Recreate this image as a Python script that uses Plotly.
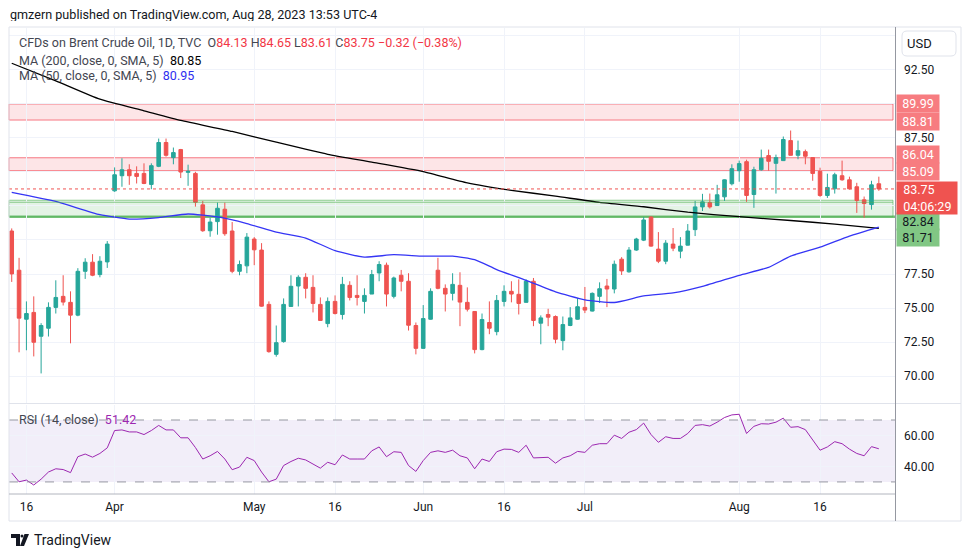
import plotly.graph_objects as go
import pandas as pd

# ---------------- data ----------------
dates = [d.strftime("%Y-%m-%d") for d in pd.bdate_range("2023-03-14", "2023-08-28")
         if d.strftime("%Y-%m-%d") != "2023-04-07"]

opens = [80.66, 77.78, 74.18, 74.68, 72.93, 73.52, 75.05, 75.86, 75.42, 74.48, 77.70, 78.37, 77.46, 78.39,
         83.61, 84.72, 85.16, 84.89, 84.89, 84.08, 85.41, 87.16, 86.05, 86.64, 84.97, 84.89, 82.58, 80.68,
         81.35, 82.26, 80.66, 77.70, 78.10,
         80.07, 79.26, 75.27, 71.60, 72.54, 75.12, 76.62, 77.26, 76.52, 75.27, 73.86, 75.49, 74.53, 76.67,
         75.93, 75.49, 76.03, 77.58, 78.15, 75.86, 77.41, 76.97, 73.72,
         72.04, 74.18, 77.78, 76.45, 76.08, 76.67, 75.42, 74.75, 71.95, 73.94, 73.27, 75.49, 76.23, 76.01,
         75.42, 76.97, 73.89, 74.53, 74.38, 72.61, 73.72, 74.18,
         75.05, 74.78, 75.86, 76.62, 76.40, 78.59, 77.66, 79.26, 79.99, 81.69, 79.33, 78.44, 79.70, 79.18,
         79.62, 80.76, 82.43, 82.75, 82.53, 83.17, 84.13,
         85.09, 85.75, 83.34, 85.16, 86.20, 85.63, 85.83, 87.30, 86.22, 86.49, 86.05, 85.04, 83.27, 83.76,
         84.72, 84.42, 83.91, 82.95, 82.60, 84.13]
highs = [80.85, 78.69, 75.49, 75.86, 73.89, 75.42, 77.04, 77.41, 76.23, 77.93, 78.66, 78.96, 78.81, 79.92,
         85.33, 86.00, 85.56, 85.41, 85.63, 85.63, 87.45, 87.45, 86.79, 86.69, 85.53, 85.01, 82.87, 81.64,
         82.75, 82.75, 81.32, 78.49, 80.51,
         80.21, 79.77, 75.49, 73.72, 75.71, 77.41, 77.41, 77.56, 77.41, 75.78, 75.78, 75.93, 77.29, 76.97,
         77.41, 76.45, 77.80, 78.44, 78.34, 77.31, 77.80, 77.56, 73.94,
         75.22, 76.45, 78.69, 76.74, 77.56, 77.63, 76.52, 74.78, 74.60, 75.49, 75.96, 76.67, 76.97, 77.11,
         77.11, 77.21, 74.46, 74.95, 74.46, 74.38, 75.07, 75.74,
         76.55, 76.15, 76.89, 77.14, 78.49, 78.74, 79.48, 80.16, 81.69, 81.72, 80.58, 79.99, 80.88, 80.21,
         81.17, 82.87, 83.39, 83.41, 84.05, 84.45, 85.56,
         85.83, 85.90, 85.38, 86.64, 86.64, 86.27, 87.60, 88.04, 87.30, 86.64, 86.08, 85.31, 84.87, 84.94,
         85.83, 84.65, 84.20, 83.19, 84.35, 84.65]
lows = [76.92, 71.75, 71.90, 71.45, 70.20, 72.91, 74.60, 75.19, 72.41, 74.40, 77.14, 77.34, 77.26, 77.95,
        83.54, 83.91, 84.05, 84.15, 84.10, 83.73, 85.35, 86.12, 85.56, 84.55, 83.98, 82.45, 80.60, 80.24,
        80.39, 80.31, 77.56, 77.41, 77.56,
        78.15, 75.10, 71.72, 71.43, 72.46, 75.10, 75.12, 75.71, 74.68, 74.05, 73.59, 74.53, 74.16, 75.56,
        75.19, 74.60, 76.03, 76.97, 75.12, 75.71, 76.23, 73.35, 71.60,
        72.00, 74.15, 76.38, 74.75, 75.56, 73.67, 74.75, 71.67, 71.90, 73.08, 73.00, 75.12, 75.42, 74.53,
        75.40, 73.67, 72.34, 73.67, 72.41, 71.90, 73.67, 74.15,
        74.63, 74.75, 75.37, 75.07, 76.08, 77.43, 77.60, 79.20, 79.92, 79.50, 78.30, 78.22, 79.18, 78.66,
        79.60, 80.29, 82.13, 82.31, 82.50, 82.87, 84.01,
        84.28, 82.80, 82.36, 85.09, 85.09, 83.41, 85.80, 86.20, 85.93, 85.56, 84.35, 83.17, 83.09, 83.41,
        84.35, 83.71, 81.99, 81.64, 82.23, 83.61]
closes = [77.51, 74.26, 74.60, 72.49, 73.72, 75.05, 75.78, 75.44, 74.48, 77.70, 78.37, 77.41, 78.44, 79.70,
          84.79, 85.16, 84.72, 84.67, 84.15, 85.46, 87.16, 86.22, 86.42, 84.99, 85.04, 82.77, 80.68, 81.32,
          82.33, 80.46, 77.70, 78.20, 80.21,
          79.28, 75.14, 71.80, 72.46, 75.27, 76.60, 77.26, 76.45, 75.34, 74.09, 75.49, 74.60, 76.74, 75.78,
          75.78, 75.93, 77.46, 78.20, 76.03, 77.21, 76.97, 73.74, 72.04,
          74.23, 76.23, 76.45, 76.03, 76.74, 75.44, 74.92, 71.95, 74.16, 73.52, 75.56, 76.23, 76.03, 75.34,
          76.97, 74.09, 74.28, 74.33, 72.71, 73.79, 74.28, 75.10,
          74.85, 76.08, 76.42, 76.40, 78.22, 77.73, 79.26, 80.07, 81.47, 79.55, 78.44, 79.77, 79.40, 79.55,
          80.66, 82.43, 82.80, 82.43, 83.32, 84.42, 85.24,
          85.61, 83.27, 85.16, 86.00, 85.78, 86.05, 87.38, 86.22, 86.56, 86.15, 84.89, 83.27, 83.86, 84.79,
          84.42, 83.76, 82.90, 82.68, 84.05, 83.75]

rsi = [35.8, 30.1, 31.2, 28.0, 31.8, 36.4, 38.5, 38.0, 36.0, 46.3, 48.0, 46.0, 48.4, 52.0, 63.2, 63.6,
       62.3, 62.3, 60.6, 63.2, 66.5, 63.6, 63.6, 58.5, 58.5, 52.2, 44.8, 46.9, 49.7, 44.8, 37.9, 39.6,
       45.9, 43.8, 36.4, 30.1, 31.8, 40.6, 43.2, 45.3, 44.2, 41.7, 38.9, 42.7, 41.1, 47.4, 44.8, 44.8,
       44.8, 50.1, 52.6, 46.3, 49.5, 49.1, 40.6, 36.8, 43.8, 49.1, 50.1, 49.1, 50.5, 46.9, 45.5, 38.5,
       44.8, 43.2, 49.5, 51.2, 51.0, 49.1, 53.7, 45.5, 45.9, 45.9, 42.1, 45.5, 46.9, 49.7, 49.1, 53.7,
       54.7, 54.7, 60.2, 58.1, 62.1, 63.8, 68.0, 60.6, 55.6, 59.2, 58.1, 58.1, 61.3, 66.5, 67.0, 66.1,
       68.6, 71.6, 73.3, 73.7, 61.3, 65.9, 67.6, 67.4, 68.6, 71.2, 65.3, 65.7, 63.8, 57.5, 50.5, 52.6,
       56.0, 54.7, 51.2, 48.4, 46.9, 52.8, 51.42]

ma200_dates = ["2023-03-14", "2023-03-22", "2023-03-30", "2023-04-10", "2023-04-17", "2023-04-26",
               "2023-05-04", "2023-05-15", "2023-05-23", "2023-06-01", "2023-06-09", "2023-06-19",
               "2023-06-27", "2023-07-05", "2023-07-13", "2023-07-21", "2023-08-01", "2023-08-10",
               "2023-08-18", "2023-08-28"]
ma200_vals = [92.98, 91.69, 90.34, 89.49, 88.78, 87.97, 87.18, 86.29, 85.72, 85.03, 84.20, 83.65,
              83.22, 82.76, 82.44, 82.04, 81.71, 81.43, 81.17, 80.85]

ma50_dates = ["2023-03-14", "2023-03-22", "2023-03-30", "2023-04-05", "2023-04-12", "2023-04-18",
              "2023-04-24", "2023-04-28", "2023-05-04", "2023-05-10", "2023-05-16", "2023-05-22",
              "2023-05-26", "2023-06-01", "2023-06-07", "2023-06-12", "2023-06-15", "2023-06-21",
              "2023-06-27", "2023-07-03", "2023-07-07", "2023-07-13", "2023-07-19", "2023-07-25",
              "2023-08-01", "2023-08-07", "2023-08-10", "2023-08-16", "2023-08-22", "2023-08-28"]
ma50_vals = [83.50, 82.83, 81.86, 81.54, 81.65, 81.91, 81.69, 81.21, 80.58, 80.14, 79.22, 78.74,
             78.92, 78.81, 78.81, 78.55, 77.83, 77.04, 76.19, 75.61, 75.41, 75.89, 76.11, 76.59,
             77.41, 77.99, 78.81, 79.47, 80.29, 80.95]

red_zones = [(88.81, 89.99), (85.09, 86.04)]
green_zone = (81.71, 82.84)
last_price = 83.75

tick_dates = ["2023-03-16", "2023-04-03", "2023-05-01", "2023-05-16", "2023-06-01",
              "2023-06-16", "2023-07-03", "2023-08-01", "2023-08-16"]
tick_text = ["16", "Apr", "May", "16", "Jun", "16", "Jul", "Aug", "16"]

price_ticks = [67.5, 70.0, 72.5, 75.0, 77.5, 80.0, 82.5, 85.0, 87.5, 90.0, 92.5, 95.0]
price_tick_shown = ["", "70.00", "72.50", "75.00", "77.50", "", "", "", "87.50", "", "92.50", ""]

# ---------------- geometry helpers ----------------
# the page body adds an 8px offset, so the figure is drawn 8px smaller and coordinates are
# given in page pixels and converted here.
OFF = 8
FW, FH = 970 - OFF, 557 - OFF
L, R, T, B = 9, 895, 28, 494          # plot area in page pixels
def px(x):
    return (x - L) / (R - L)
def py(y):
    return (B - y) / (B - T)

FONT = "Roboto, 'Open Sans', sans-serif"
UP, DOWN = "#26a69a", "#ef5350"

fig = go.Figure()
fig.add_trace(go.Candlestick(
    x=dates, open=opens, high=highs, low=lows, close=closes,
    increasing=dict(line=dict(color=UP, width=1), fillcolor=UP),
    decreasing=dict(line=dict(color=DOWN, width=1), fillcolor=DOWN),
    whiskerwidth=0, showlegend=False, hoverinfo="skip", xaxis="x", yaxis="y"))
fig.add_trace(go.Scatter(x=ma200_dates, y=ma200_vals, mode="lines",
                         line=dict(color="#000000", width=1.3, shape="spline", smoothing=0.5),
                         showlegend=False, hoverinfo="skip", xaxis="x", yaxis="y"))
fig.add_trace(go.Scatter(x=ma50_dates, y=ma50_vals, mode="lines",
                         line=dict(color="#3535f5", width=1.3, shape="spline", smoothing=0.5),
                         showlegend=False, hoverinfo="skip", xaxis="x", yaxis="y"))
fig.add_trace(go.Scatter(x=dates, y=rsi, mode="lines", line=dict(color="#9c27b0", width=1),
                         showlegend=False, hoverinfo="skip", xaxis="x2", yaxis="y2"))

shapes = []
zone_right = px(893)
for lo, hi in red_zones:
    shapes.append(dict(type="rect", xref="paper", yref="y", x0=0, x1=zone_right, y0=lo, y1=hi,
                       fillcolor="rgba(242,54,69,0.13)", line=dict(color="rgba(242,54,69,0.65)", width=1),
                       layer="below"))
shapes.append(dict(type="rect", xref="paper", yref="y", x0=0, x1=zone_right, y0=green_zone[0],
                   y1=green_zone[1] + 0.08, fillcolor="rgba(76,175,80,0.15)",
                   line=dict(color="rgba(76,175,80,0.6)", width=1), layer="below"))
shapes.append(dict(type="line", xref="paper", yref="y", x0=0, x1=zone_right, y0=green_zone[1] - 0.07,
                   y1=green_zone[1] - 0.07, line=dict(color="rgba(76,175,80,0.6)", width=1)))
shapes.append(dict(type="line", xref="paper", yref="y", x0=0, x1=1, y0=green_zone[0], y1=green_zone[0],
                   line=dict(color="rgba(76,175,80,0.75)", width=2.5), layer="below"))
shapes.append(dict(type="line", xref="paper", yref="y", x0=0, x1=1, y0=last_price, y1=last_price,
                   line=dict(color="#ef5350", width=1, dash="dot")))
shapes.append(dict(type="rect", xref="paper", yref="y2", x0=0, x1=1, y0=30, y1=70,
                   fillcolor="rgba(126,87,194,0.1)", line=dict(width=0), layer="below"))
for lv in (30, 70):
    shapes.append(dict(type="line", xref="paper", yref="y2", x0=0, x1=1, y0=lv, y1=lv,
                       line=dict(color="#9598a1", width=1, dash="dash")))
shapes.append(dict(type="rect", xref="paper", yref="paper", x0=px(9), x1=px(961), y0=py(27), y1=py(521),
                   line=dict(color="#e0e3eb", width=1)))
shapes.append(dict(type="line", xref="paper", yref="paper", x0=px(9), x1=px(961), y0=py(403.5), y1=py(403.5),
                   line=dict(color="#e0e3eb", width=1)))
shapes.append(dict(type="line", xref="paper", yref="paper", x0=px(9), x1=px(895.5), y0=py(494), y1=py(494),
                   line=dict(color="#b2b5be", width=1)))
shapes.append(dict(type="line", xref="paper", yref="paper", x0=px(895.5), x1=px(895.5), y0=py(27), y1=py(521),
                   line=dict(color="#9598a1", width=1)))
def rr(x0, y0, x1, y1, r):
    pts = [f"M{px(x0 + r)},{py(y0)}", f"L{px(x1 - r)},{py(y0)}", f"Q{px(x1)},{py(y0)} {px(x1)},{py(y0 + r)}",
           f"L{px(x1)},{py(y1 - r)}", f"Q{px(x1)},{py(y1)} {px(x1 - r)},{py(y1)}",
           f"L{px(x0 + r)},{py(y1)}", f"Q{px(x0)},{py(y1)} {px(x0)},{py(y1 - r)}",
           f"L{px(x0)},{py(y0 + r)}", f"Q{px(x0)},{py(y0)} {px(x0 + r)},{py(y0)}", "Z"]
    return " ".join(pts)
shapes.append(dict(type="path", xref="paper", yref="paper", path=rr(902, 31, 956, 56, 5),
                   line=dict(color="#e0e3eb", width=1)))
shapes.append(dict(type="path", xref="paper", yref="paper",
                   path=" ".join([f"M{px(11)},{py(534)}", f"L{px(20)},{py(534)}", f"L{px(20)},{py(546)}",
                                  f"L{px(16)},{py(546)}", f"L{px(16)},{py(538)}", f"L{px(11)},{py(538)}", "Z"]),
                   fillcolor="#131722", line=dict(width=0)))
shapes.append(dict(type="circle", xref="paper", yref="paper", x0=px(20.5), x1=px(23.5), y0=py(537.5), y1=py(534.5),
                   fillcolor="#131722", line=dict(width=0)))
shapes.append(dict(type="path", xref="paper", yref="paper",
                   path=" ".join([f"M{px(24.5)},{py(534)}", f"L{px(29)},{py(534)}", f"L{px(24)},{py(546)}",
                                  f"L{px(20)},{py(546)}", "Z"]),
                   fillcolor="#131722", line=dict(width=0)))

annotations = []
def txt(x, y, text, size=13, color="#131722", xanchor="left", height=None):
    a = dict(xref="paper", yref="paper", x=px(x), y=py(y), text=text, showarrow=False,
             xanchor=xanchor, yanchor="middle", font=dict(family=FONT, size=size, color=color))
    if height:
        a.update(height=height, borderpad=0)
    annotations.append(a)

RED = "#f23645"
def red(v):
    return f'<span style="color:{RED}">{v}</span>'
txt(9, 14.5, "gmzern published on TradingView.com, Aug 28, 2023 13:53 UTC-4", 12.6, "#131722", height=13)
txt(17, 43, "CFDs on Brent Crude Oil, 1D, TVC&nbsp;&nbsp;O" + red("84.13") + "&nbsp;H" + red("84.65")
    + "&nbsp;L" + red("83.61") + "&nbsp;C" + red("83.75") + "&nbsp;" + red("−0.32 (−0.38%)"),
    12.5, "#434651")
txt(17, 60, 'MA (200, close, 0, SMA, 5)&nbsp;&nbsp;<span style="color:#000000">80.85</span>', 12.5, "#434651")
txt(17, 76, 'MA (50, close, 0, SMA, 5)&nbsp;&nbsp;<span style="color:#2e2ef0">80.95</span>', 12.5, "#434651")
txt(17, 419, 'RSI (14, close)&nbsp;&nbsp;<span style="color:#9c27b0">51.42</span>', 12.5, "#434651")
txt(919, 43.5, "USD", 13, "#131722", "center")
txt(32, 540, "TradingView", 14, "#131722")

def plabel(text, value, yshift, bg, fg, width=42, height=17):
    annotations.append(dict(xref="paper", yref="y", x=px(896), y=value, yshift=yshift, text=text,
                            showarrow=False, xanchor="left", yanchor="middle", bgcolor=bg, width=width,
                            height=height, borderpad=0, align="center",
                            font=dict(family=FONT, size=12.5, color=fg)))
PINK, GREEN = "#f77c80", "#81c784"
plabel("89.99", red_zones[0][1], 0, PINK, "#ffffff")
plabel("88.81", red_zones[0][0], -1, PINK, "#ffffff")
plabel("86.04", red_zones[1][1], 3, PINK, "#ffffff")
plabel("85.09", red_zones[1][0], -1, PINK, "#ffffff")
plabel("82.84", green_zone[1], -20, GREEN, "#131722")
plabel("81.71", green_zone[0], -21, GREEN, "#131722")
annotations.append(dict(xref="paper", yref="y", x=px(896), y=last_price, yshift=-9,
                        text="&nbsp;&nbsp;83.75<br>&nbsp;&nbsp;04:06:29", showarrow=False, xanchor="left",
                        yanchor="middle", bgcolor="#ef5350", width=60, height=32, borderpad=0, align="left",
                        font=dict(family=FONT, size=12.5, color="#ffffff")))

axis_font = dict(family=FONT, size=12, color="#131722")
fig.update_layout(
    width=FW, height=FH,
    margin=dict(l=L - OFF, r=FW - (R - OFF), t=T - OFF, b=FH - (B - OFF)),
    paper_bgcolor="#ffffff", plot_bgcolor="#ffffff",
    showlegend=False,
    shapes=shapes, annotations=annotations,
    xaxis=dict(domain=[0, 1], anchor="y", type="category", categoryorder="array", categoryarray=dates,
               range=[-0.37, 120.2], tickvals=tick_dates, ticktext=tick_text, showticklabels=False,
               showgrid=True, gridcolor="#f0f3fa", zeroline=False, showline=False, ticks="",
               rangeslider=dict(visible=False), fixedrange=True),
    xaxis2=dict(domain=[0, 1], anchor="y2", type="category", categoryorder="array", categoryarray=dates,
                range=[-0.37, 120.2], tickvals=tick_dates, ticktext=tick_text, showticklabels=True,
                tickfont=axis_font, ticklabelstandoff=4, showgrid=True, gridcolor="#f0f3fa",
                zeroline=False, showline=False, ticks="", matches="x"),
    yaxis=dict(domain=[0.193, 1], anchor="x", side="right", range=[67.95, 95.57], tickvals=price_ticks,
               ticktext=price_tick_shown, tickfont=axis_font, ticklabelstandoff=8, showgrid=True,
               gridcolor="#f0f3fa", zeroline=False, showline=False, ticks=""),
    yaxis2=dict(domain=[0, 0.19], anchor="x2", side="right", range=[22.2, 79.4], tickvals=[40, 60],
                ticktext=["40.00", "60.00"], tickfont=axis_font, ticklabelstandoff=8, showgrid=True,
                gridcolor="#f0f3fa", zeroline=False, showline=False, ticks=""),
)

fig.write_html("out.html")
